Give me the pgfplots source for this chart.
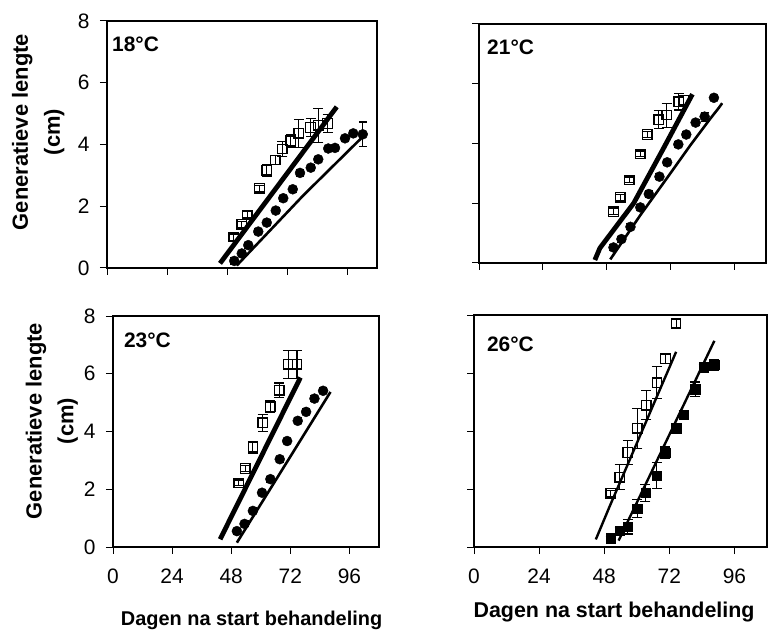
\documentclass[border=0pt]{standalone}
\usepackage{pgfplots}
\pgfplotsset{compat=1.18}
\usepackage{fontspec}
\setmainfont{Liberation Sans}

\tikzset{lab/.style={font=\bfseries\fontsize{21}{24}\selectfont, anchor=north west, inner sep=0pt}}
\pgfplotsset{
  panel/.style={
    scale only axis, anchor=south west,
    xmin=0, xmax=108, ymin=0, ymax=8,
    xtick={0,24,48,72,96}, ytick={0,2,4,6,8},
    tick align=outside, xtick pos=left, ytick pos=left,
    major tick length=7bp,
    axis line style={line width=1.2bp},
    tick style={line width=1bp, black},
    /pgf/number format/assume math mode=true,
    tick label style={font=\fontsize{21}{24}\selectfont},
    xticklabel style={yshift=-11bp},
    yticklabel style={xshift=-7bp},
    clip=false,
  },
  ylab/.style={ylabel={Generatieve lengte\\(cm)},
    ylabel style={align=center, font=\bfseries\fontsize{22}{32}\selectfont, anchor=center, at={(axis description cs:#1)}}},
  sq/.style={only marks, mark=square, mark size=4.7bp, mark options={line width=1.3bp, black, solid},
    error bars/y dir=both, error bars/y explicit,
    error bars/error bar style={line width=1.1bp, black},
    error bars/error mark options={rotate=90, mark size=5bp, line width=1.1bp, black}},
  sqf/.style={sq, mark=square*, mark options={fill=black}},
  ci/.style={sq, mark=*, mark size=5bp, mark options={fill=black},
    error bars/error mark options={rotate=90, mark size=4bp, line width=1.1bp, black}},
  thickline/.style={no marks, black, line width=4.8bp},
  thinline/.style={no marks, black, line width=2.6bp},
}

\begin{document}
\begin{tikzpicture}
\useasboundingbox (0,0) rectangle (772bp,635bp);

% ---------- 18 C ----------
\begin{axis}[panel, at={(107bp,367bp)}, width=270bp, height=247bp,
  xticklabels={}, ylab={-0.255,0.55}]
\addplot[thickline] coordinates {(45.2,0.15) (91.9,5.22)};
\addplot[thinline] coordinates {(51.9,0.08) (78.5,2.35) (103.9,4.38)};
\addplot[sq] coordinates {
 (50.7,1.0) +- (0,0.1) (53.9,1.42) +- (0,0.1) (56.1,1.72) +- (0,0.1)
 (61.0,2.58) +- (0,0.1) (63.9,3.16) +- (0,0.2) (67.3,3.5) +- (0,0.15)
 (70.1,3.85) +- (0,0.25) (73.5,4.12) +- (0,0.2) (76.7,4.36) +- (0,0.45)
 (81.4,4.55) +- (0,0.3) (84.5,4.62) +- (0,0.55) (88.2,4.68) +- (0,0.3)};
\addplot[ci] coordinates {
 (50.9,0.23) +- (0,0.1) (53.9,0.47) +- (0,0.1) (56.5,0.74) +- (0,0.1)
 (60.5,1.18) +- (0,0.1) (63.9,1.47) +- (0,0.1) (67.5,1.86) +- (0,0.1)
 (70.5,2.26) +- (0,0.1) (74.3,2.55) +- (0,0.1) (77.2,3.08) +- (0,0.1)
 (81.5,3.25) +- (0,0.1) (84.5,3.52) +- (0,0.1) (88.5,3.87) +- (0,0.05)
 (91.2,3.89) +- (0,0.05) (95.2,4.2) +- (0,0.1) (98.5,4.36) +- (0,0.1)
 (102.3,4.33) +- (0,0.4)};
\node[lab] at (rel axis cs:0.0185,0.935) {18°C};
\end{axis}

% ---------- 21 C ----------
\begin{axis}[panel, at={(479bp,372bp)}, width=287bp, height=239bp,
  xticklabels={}, yticklabels={}]
\addplot[thickline] coordinates {(43.6,0.1) (45.5,0.5) (58.2,2.0) (69.5,3.85) (80.3,5.65)};
\addplot[thinline] coordinates {(49.4,0.12) (60.7,1.6) (70.8,2.85) (79.6,3.95) (87.2,4.85) (90.3,5.2) (91.5,5.35)};
\addplot[sq] coordinates {
 (50.6,1.72) +- (0,0.1) (53.2,2.2) +- (0,0.1) (56.6,2.78) +- (0,0.1)
 (60.7,3.65) +- (0,0.1) (63.3,4.3) +- (0,0.1) (67.6,4.8) +- (0,0.3)
 (70.6,4.95) +- (0,0.4) (75.2,5.4) +- (0,0.28) (77.1,5.45) +- (0,0.15)};
\addplot[ci] coordinates {
 (50.6,0.52) +- (0,0.1) (53.6,0.8) +- (0,0.1) (57.0,1.21) +- (0,0.1)
 (60.7,1.86) +- (0,0.1) (63.9,2.31) +- (0,0.1) (67.9,2.89) +- (0,0.1)
 (70.8,3.37) +- (0,0.1) (75.0,3.97) +- (0,0.1) (78.0,4.3) +- (0,0.1)
 (81.5,4.7) +- (0,0.1) (84.9,4.9) +- (0,0.15) (88.4,5.53) +- (0,0.08)};
\node[lab] at (rel axis cs:0.028,0.933) {21°C};
\end{axis}

% ---------- 23 C ----------
\begin{axis}[panel, at={(113bp,88bp)}, width=266bp, height=231bp,
  ylab={-0.23,0.545}]
\addplot[thickline] coordinates {(43.5,0.27) (76.1,5.87)};
\addplot[thinline] coordinates {(50.3,0.15) (88.3,5.37)};
\addplot[sq] coordinates {
 (51.0,2.22) +- (0,0.1) (53.7,2.72) +- (0,0.1) (56.8,3.45) +- (0,0.2)
 (60.8,4.3) +- (0,0.3) (63.9,4.86) +- (0,0.2) (67.5,5.43) +- (0,0.25)
 (71.1,6.33) +- (0,0.48) (74.7,6.33) +- (0,0.48)};
\addplot[ci] coordinates {
 (50.3,0.55) +- (0,0.1) (53.4,0.8) +- (0,0.1) (56.8,1.25) +- (0,0.1)
 (60.5,1.88) +- (0,0.1) (63.9,2.35) +- (0,0.1) (67.7,3.04) +- (0,0.1)
 (70.7,3.67) +- (0,0.1) (75.0,4.37) +- (0,0.1) (78.4,4.68) +- (0,0.1)
 (81.8,5.14) +- (0,0.1) (85.3,5.41) +- (0,0.1)};
\node[lab] at (rel axis cs:0.041,0.926) {23°C};
\node[font=\bfseries\fontsize{20}{24}\selectfont, anchor=base] at (axis description cs:0.521,-0.338) {Dagen na start behandeling};
\end{axis}

% ---------- 26 C ----------
\begin{axis}[panel, at={(474bp,88bp)}, width=293bp, height=232bp,
  yticklabels={}]
\addplot[no marks, black, line width=2.4bp] coordinates {(44.9,0.26) (50,1.4) (74.5,6.73)};
\addplot[no marks, black, line width=2.4bp] coordinates {(53.3,0.22) (88.6,7.11)};
\addplot[sq] coordinates {
 (50.4,1.85) +- (0,0.1) (53.7,2.4) +- (0,0.43) (56.7,3.26) +- (0,0.4)
 (60.2,4.09) +- (0,0.7) (63.5,4.89) +- (0,0.5) (67.4,5.67) +- (0,0.55)
 (70.6,6.49) +- (0,0.15) (74.5,7.71) +- (0,0.15)};
\addplot[sqf] coordinates {
 (50.4,0.3) +- (0,0.05) (53.7,0.56) +- (0,0.1) (56.7,0.7) +- (0,0.25)
 (60.2,1.33) +- (0,0.3) (63.2,1.87) +- (0,0.3) (67.4,2.46) +- (0,0.45)
 (70.5,3.25) +- (0,0.2) (74.5,4.09) +- (0,0.1) (77.3,4.57) +- (0,0.15)
 (81.5,5.44) +- (0,0.25) (84.6,6.2) +- (0,0.1) (88.6,6.28) +- (0,0.2)};
\node[lab] at (rel axis cs:0.044,0.905) {26°C};
\node[font=\bfseries\fontsize{21.5}{24}\selectfont, anchor=base] at (axis description cs:0.478,-0.302) {Dagen na start behandeling};
\end{axis}
\end{tikzpicture}
\end{document}
